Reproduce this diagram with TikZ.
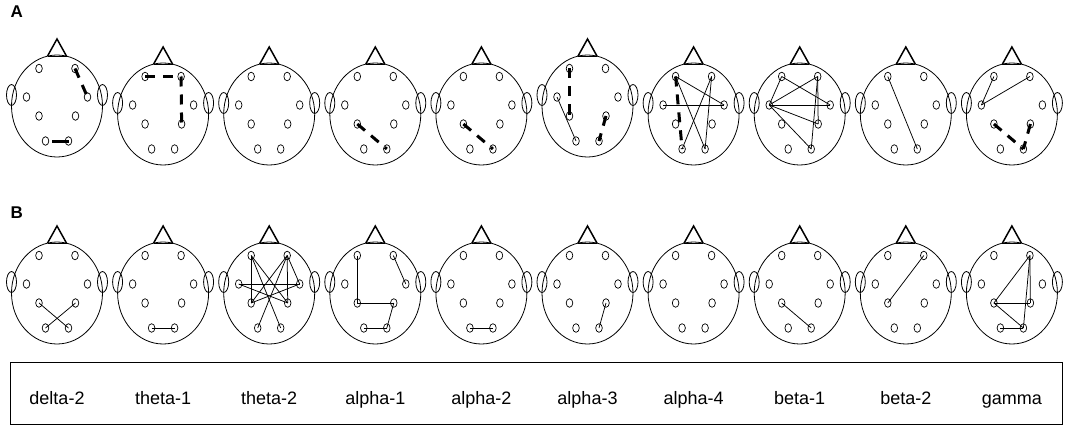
\documentclass[tikz,border=0pt]{standalone}
\usepackage{fontspec}
\setmainfont{Liberation Sans}
\usetikzlibrary{shapes.geometric}
\tikzset{
  headline/.style={line width=0.8pt},
  nose/.style={line width=1.5pt, line join=miter},
  electrode/.style={ellipse, draw, line width=0.7pt, minimum width=6.6pt, minimum height=8.6pt, inner sep=0pt},
  ear/.style={ellipse, draw, line width=0.8pt, minimum width=10pt, minimum height=21pt, inner sep=0pt},
  link/.style={line width=0.75pt},
  strong/.style={line width=3pt, dash pattern=on 10pt off 8pt},
  strongbar/.style={line width=3pt, dash pattern=on 0pt off 6.5pt on 20pt off 10pt},
  band/.style={font=\fontsize{18}{20}\selectfont, anchor=base},
  panel/.style={font=\bfseries\fontsize{17}{19}\selectfont},
}
% one scalp map: outline, nose, ears and eight electrodes named <prefix>-<site>
\newcommand\eeghead[3]{%
  \begin{scope}[shift={(#1,#2)}]
    \draw[headline] (0,0) ellipse [x radius=45.5pt, y radius=51pt];
    \draw[headline] (-9.5,-49.9) -- (9.5,-49.9);
    \draw[nose] (-9.5,-49.9) -- (0,-67) -- (9.5,-49.9);
    \node[ear] (#3-earL) at (-45.5,-11) {};
    \node[ear] (#3-earR) at (45.5,-11) {};
    \node[electrode] (#3-Fp1) at (-18,-37.5) {};
    \node[electrode] (#3-Fp2) at (18,-37.5) {};
    \node[electrode] (#3-T3) at (-30.5,-9) {};
    \node[electrode] (#3-T4) at (30.5,-9) {};
    \node[electrode] (#3-C3) at (-18,10) {};
    \node[electrode] (#3-C4) at (18.5,10) {};
    \node[electrode] (#3-O1) at (-11.5,35) {};
    \node[electrode] (#3-O2) at (11.5,35) {};
  \end{scope}}
\newcommand\lnk[3][link]{\draw[#1] (#2.center) -- (#3.center);}
\begin{document}
\begin{tikzpicture}[x=1pt, y=-1pt]
  \useasboundingbox (0,0) rectangle (1069,428);

  \node[panel, anchor=west] (labA) at (7,12) {A};
  \node[panel, anchor=west] (labB) at (7,213) {B};

  % row A
  \foreach \i/\cy in {1/106,2/114,3/114,4/114,5/114,6/106,7/114,8/114,9/114,10/114}{
    \pgfmathsetmacro\cx{57+106.1*(\i-1)}
    \eeghead{\cx}{\cy}{a\i}
  }
  % row B
  \foreach \i in {1,...,10}{
    \pgfmathsetmacro\cx{57+106.1*(\i-1)}
    \eeghead{\cx}{293}{b\i}
  }

  % row A connections
  \lnk[strong]{a1-Fp2}{a1-T4}
  \lnk[strongbar]{a1-O1}{a1-O2}
  \lnk[strong]{a2-Fp1}{a2-Fp2}
  \lnk[strong]{a2-Fp2}{a2-C4}
  \lnk[strong]{a4-C3}{a4-O2}
  \lnk[strong]{a5-C3}{a5-O2}
  \lnk[strong]{a6-Fp1}{a6-C3}
  \lnk[strong]{a6-C4}{a6-O2}
  \lnk{a6-T3}{a6-O1}
  \lnk[strong]{a7-Fp1}{a7-O1}
  \lnk{a7-Fp1}{a7-T4}
  \lnk{a7-T3}{a7-T4}
  \lnk{a7-Fp1}{a7-O2}
  \lnk{a7-Fp2}{a7-O1}
  \lnk{a7-Fp2}{a7-O2}
  \lnk{a8-Fp1}{a8-T3}
  \lnk{a8-Fp1}{a8-T4}
  \lnk{a8-T3}{a8-Fp2}
  \lnk{a8-T3}{a8-T4}
  \lnk{a8-T3}{a8-C4}
  \lnk{a8-T3}{a8-O2}
  \lnk{a8-Fp2}{a8-O2}
  \lnk{a8-Fp2}{a8-C4}
  \lnk{a9-Fp1}{a9-O2}
  \lnk{a10-Fp1}{a10-T3}
  \lnk{a10-T3}{a10-Fp2}
  \lnk[strong]{a10-C3}{a10-O2}
  \lnk[strong]{a10-C4}{a10-O2}

  % row B connections
  \lnk{b1-C3}{b1-O2}
  \lnk{b1-C4}{b1-O1}
  \lnk{b2-O1}{b2-O2}
  \lnk{b3-Fp1}{b3-C3}
  \lnk{b3-Fp1}{b3-C4}
  \lnk{b3-Fp1}{b3-O2}
  \lnk{b3-Fp2}{b3-C3}
  \lnk{b3-Fp2}{b3-O1}
  \lnk{b3-Fp2}{b3-C4}
  \lnk{b3-Fp2}{b3-T4}
  \lnk{b3-T3}{b3-T4}
  \lnk{b3-T3}{b3-C4}
  \lnk{b3-T4}{b3-C3}
  \lnk{b4-Fp1}{b4-C3}
  \lnk{b4-C3}{b4-C4}
  \lnk{b4-C4}{b4-O2}
  \lnk{b4-O1}{b4-O2}
  \lnk{b4-Fp2}{b4-T4}
  \lnk{b5-O1}{b5-O2}
  \lnk{b6-C4}{b6-O2}
  \lnk{b8-C3}{b8-O2}
  \lnk{b9-C3}{b9-Fp2}
  \lnk{b10-Fp2}{b10-C3}
  \lnk{b10-Fp2}{b10-O2}
  \lnk{b10-Fp2}{b10-C4}
  \lnk{b10-C3}{b10-C4}
  \lnk{b10-C3}{b10-O2}
  \lnk{b10-O1}{b10-O2}

  % frequency band legend
  \node[draw, line width=0.8pt, minimum width=1052pt, minimum height=62pt, inner sep=0pt] (legend) at (536,393) {};
  \foreach \i/\t in {1/delta-2,2/theta-1,3/theta-2,4/alpha-1,5/alpha-2,6/alpha-3,7/alpha-4,8/beta-1,9/beta-2,10/gamma}{
    \node[band] (band\i) at ({57+106.1*(\i-1)},404) {\t};
  }
\end{tikzpicture}
\end{document}
